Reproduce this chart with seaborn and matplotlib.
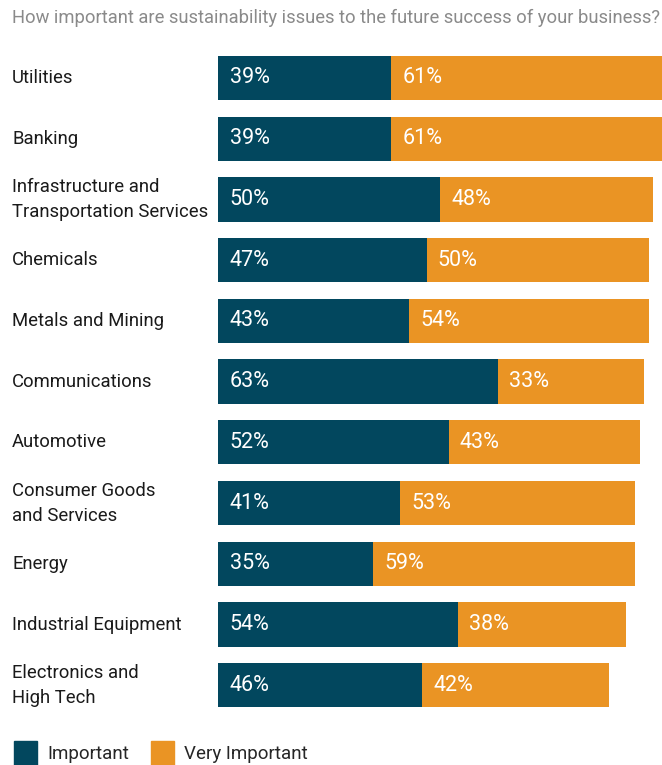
# Sustainability importance by industry - stacked horizontal bars

import pandas as pd
import numpy as np
import matplotlib.pyplot as plt
import seaborn as sns
from matplotlib.patches import Patch
import matplotlib.transforms as mtransforms

industries = ["Utilities", "Banking", "Infrastructure and\nTransportation Services",
              "Chemicals", "Metals and Mining", "Communications", "Automotive",
              "Consumer Goods\nand Services", "Energy", "Industrial Equipment",
              "Electronics and\nHigh Tech"]
important = [39, 39, 50, 47, 43, 63, 52, 41, 35, 54, 46]
very_important = [61, 61, 48, 50, 54, 33, 43, 53, 59, 38, 42]

teal = "#02475E"
orange = "#EA9424"

df = pd.DataFrame({"Industry": industries,
                   "Important": important,
                   "Very Important": very_important})
df["Total"] = df["Important"] + df["Very Important"]

sns.set_style("white")
plt.rcParams["font.family"] = ["Roboto", "DejaVu Sans"]

fig = plt.figure(figsize=(6.62, 7.65), dpi=100)
ax = fig.add_axes([218 / 662, 1 - 715.6 / 765, 444 / 662, 668 / 765])

# stacked: totals in orange first, then important in teal on top
sns.barplot(data=df, y="Industry", x="Total", color=orange, width=0.73,
            saturation=1, ax=ax, orient="h", linewidth=0)
sns.barplot(data=df, y="Industry", x="Important", color=teal, width=0.73,
            saturation=1, ax=ax, orient="h", linewidth=0)

ax.set_xlim(0, 100)
ax.set_ylim(len(industries) - 0.5, -0.5)
ax.set_xlabel("")
ax.set_ylabel("")
ax.set_xticks([])
ax.set_yticks([])
sns.despine(ax=ax, left=True, bottom=True)

for i, (a, b) in enumerate(zip(important, very_important)):
    ax.text(2.6, i, f"{a}%", color="white", va="center", ha="left", fontsize=15.5)
    ax.text(a + 2.5, i, f"{b}%", color="white", va="center", ha="left", fontsize=15.5)

trans = mtransforms.blended_transform_factory(fig.transFigure, ax.transData)
for i, name in enumerate(industries):
    ax.text(12 / 662, i, name, transform=trans, ha="left", va="center",
            fontsize=13.3, color="#1a1a1a", linespacing=1.5)

fig.text(12 / 662, 1 - 18 / 765, "How important are sustainability issues to the future success of your business?",
         ha="left", va="center", fontsize=13.2, color="#8a8a8a")

handles = [Patch(color=teal, label="Important"), Patch(color=orange, label="Very Important")]
fig.legend(handles=handles, loc="lower left", bbox_to_anchor=(-0.004, -0.022), ncol=2,
           frameon=False, fontsize=13.5, handlelength=1.2, handleheight=1.6,
           columnspacing=1.2, handletextpad=0.55)

fig.savefig("out.png", dpi=100)
